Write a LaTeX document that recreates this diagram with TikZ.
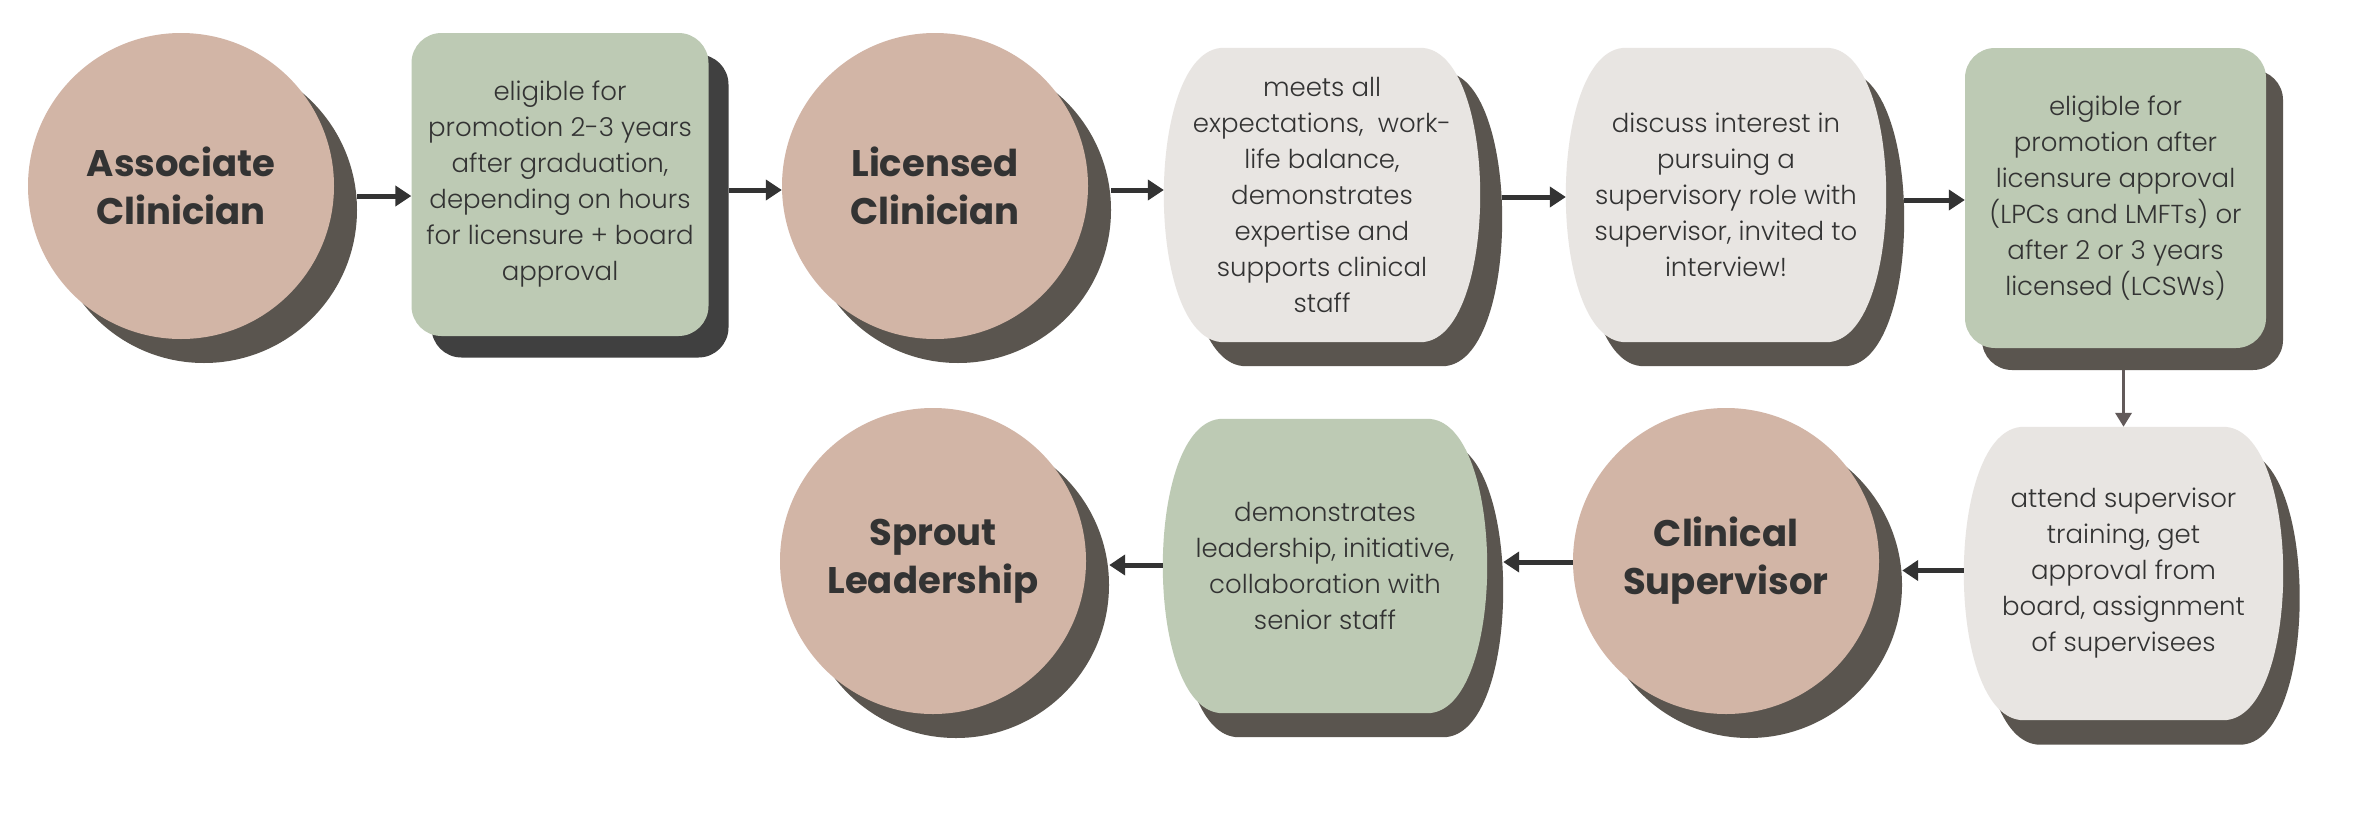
\documentclass[tikz,border=0pt]{standalone}
\usepackage{fontspec}
\IfFontExistsTF{Poppins Light}{\newfontfamily\bodyfont{Poppins Light}}{\newfontfamily\bodyfont{Poppins}}
\newfontfamily\titlefont{Poppins}
\usetikzlibrary{arrows.meta,calc}
\pgfdeclarelayer{shadowL}
\pgfdeclarelayer{bgL}
\pgfsetlayers{shadowL,bgL,main}
\definecolor{cTan}{HTML}{D2B5A6}
\definecolor{cGreen}{HTML}{BDCAB4}
\definecolor{cGray}{HTML}{E8E5E2}
\definecolor{cShad}{HTML}{5A554F}
\definecolor{cShadK}{HTML}{404040}
\definecolor{cInk}{HTML}{333333}
\definecolor{cVarr}{HTML}{625A5A}
\newcommand\barrelfill[2]{%
  \fill[#2] ([xshift=60pt]#1.north west) -- ([xshift=-60pt]#1.north east)
    .. controls ([xshift=20pt]#1.north east) and ([xshift=20pt]#1.south east) .. ([xshift=-60pt]#1.south east)
    -- ([xshift=60pt]#1.south west)
    .. controls ([xshift=-20pt]#1.south west) and ([xshift=-20pt]#1.north west) .. cycle;}
\begin{document}
\begin{tikzpicture}[x=1pt,y=-1pt,
  tancirc/.style={circle, fill=cTan, minimum size=306pt, inner sep=0pt, align=center, text=cInk, font=\titlefont\bfseries\fontsize{37}{48}\selectfont},
  shcirc/.style={circle, fill=cShad, minimum size=306pt, inner sep=0pt},
  bodytxt/.style={rectangle, inner sep=0pt, align=center, text=cInk, font=\bodyfont\fontsize{26}{36}\selectfont},
  rbox/.style={bodytxt, rounded corners=30pt, fill=cGreen},
  shbox/.style={rectangle, inner sep=0pt, rounded corners=30pt},
  arr/.style={draw=cInk, line width=5pt, -{Triangle[length=16pt,width=20pt]}},
  varr/.style={draw=cVarr, line width=3.5pt, -{Triangle[length=14pt,width=16pt]}}]
\useasboundingbox (0,0) rectangle (2364,814);
\begin{pgfonlayer}{shadowL}
  \fill[white] (0,0) rectangle (2364,814);
  \node[shcirc] (c1s) at (204,210) {};
  \node[shbox, fill=cShadK, minimum width=297pt, minimum height=303pt] (g1s) at (580,206) {};
  \node[shcirc] (c2s) at (958,210) {};
  \node[shbox, minimum width=316pt, minimum height=294pt] (b1s) at (1344,219) {};
  \barrelfill{b1s}{cShad}
  \node[shbox, minimum width=320pt, minimum height=294pt] (b2s) at (1744,219) {};
  \barrelfill{b2s}{cShad}
  \node[shbox, fill=cShad, minimum width=301pt, minimum height=300pt] (g2s) at (2132.5,220) {};
  \node[shbox, minimum width=319pt, minimum height=293pt] (b3s) at (2140,598) {};
  \barrelfill{b3s}{cShad}
  \node[shcirc] (c3s) at (1749,585) {};
  \node[shbox, minimum width=324pt, minimum height=294pt] (b4s) at (1341,590) {};
  \barrelfill{b4s}{cShad}
  \node[shcirc] (c4s) at (956,585) {};
\end{pgfonlayer}

\node[tancirc] (c1) at (181,186) {Associate\\Clinician};
\node[rbox, minimum width=297pt, minimum height=303pt] (g1) at (560,184.5)
  {eligible for\\promotion 2-3 years\\after graduation,\\depending on hours\\for licensure + board\\approval};
\node[tancirc] (c2) at (935,186) {Licensed\\Clinician};
\node[bodytxt, minimum width=316pt, minimum height=294pt] (b1) at (1322,195)
  {meets all\\expectations,\ \ work-\\life balance,\\demonstrates\\expertise and\\supports clinical\\staff};
\node[bodytxt, minimum width=320pt, minimum height=294pt] (b2) at (1726,195)
  {discuss interest in\\pursuing a\\supervisory role with\\supervisor, invited to\\interview!};
\node[rbox, minimum width=301pt, minimum height=300pt] (g2) at (2115.5,198)
  {eligible for\\promotion after\\licensure approval\\(LPCs and LMFTs) or\\after 2 or 3 years\\licensed (LCSWs)};
\node[bodytxt, minimum width=319pt, minimum height=293pt] (b3) at (2123.5,573.5)
  {attend supervisor\\training, get\\approval from\\board, assignment\\of supervisees};
\node[tancirc] (c3) at (1726,561) {Clinical\\Supervisor};
\node[bodytxt, minimum width=324pt, minimum height=294pt] (b4) at (1325,566)
  {demonstrates\\leadership, initiative,\\collaboration with\\senior staff};
\node[tancirc] (c4) at (933,561) {Sprout\\Leadership};

\begin{pgfonlayer}{bgL}
  \barrelfill{b1}{cGray}
  \barrelfill{b2}{cGray}
  \barrelfill{b3}{cGray}
  \barrelfill{b4}{cGreen}
\end{pgfonlayer}

\draw[arr] ($(c1s.east)+(0,-14)$) coordinate (p1) -- (p1 -| g1.west);
\draw[arr] ($(g1s.east)+(0,-16)$) coordinate (p2) -- (p2 -| c2.west);
\draw[arr] ($(c2s.east)+(0,-20)$) coordinate (p3) -- (p3 -| b1.west);
\draw[arr] ($(b1s.east)+(0,-22)$) coordinate (p4) -- (p4 -| b2.west);
\draw[arr] ($(b2s.east)+(0,-19)$) coordinate (p5) -- (p5 -| g2.west);
\draw[varr] (g2s.south -| b3.north) -- (b3.north);
\draw[arr] ($(b3.west)+(0,-3)$) coordinate (p6) -- (p6 -| c3s.east);
\draw[arr] ($(c3.west)+(0,1)$) coordinate (p7) -- (p7 -| b4s.east);
\draw[arr] ($(b4.west)+(0,-1)$) coordinate (p8) -- (p8 -| c4s.east);
\end{tikzpicture}
\end{document}
